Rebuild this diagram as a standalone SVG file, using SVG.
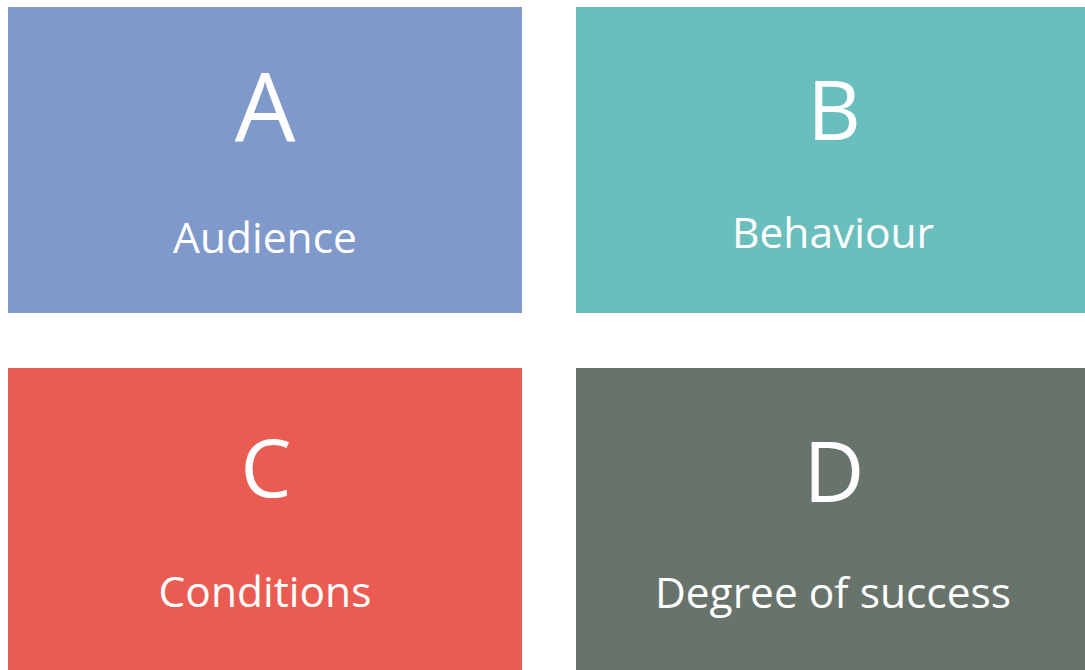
<svg xmlns="http://www.w3.org/2000/svg" width="1085" height="670" viewBox="0 0 1085 670">
<style>
.t{font-family:"Open Sans","DejaVu Sans",sans-serif;fill:#ffffff;text-anchor:middle}
.sub{font-size:42.5px}
</style>
<rect width="1085" height="670" fill="#ffffff"/>
<g id="node-a">
<rect x="8" y="7" width="514" height="306" fill="#7F99CB"/>
<text class="t" x="265" y="142" font-size="96">A</text>
<text class="t sub" x="265" y="253">Audience</text>
</g>
<g id="node-b">
<rect x="576" y="7" width="509" height="306" fill="#6ABEBD"/>
<text class="t" x="834" y="140" font-size="83">B</text>
<text class="t sub" x="833" y="248">Behaviour</text>
</g>
<g id="node-c">
<rect x="8" y="368" width="514" height="302" fill="#EA5C51"/>
<text class="t" x="266" y="497" font-size="81">C</text>
<text class="t sub" x="265" y="607">Conditions</text>
</g>
<g id="node-d">
<rect x="576" y="368" width="509" height="302" fill="#68736B"/>
<text class="t" x="834" y="502" font-size="84">D</text>
<text class="t sub" x="833" y="608">Degree of success</text>
</g>
<g id="connectors"></g>
</svg>
